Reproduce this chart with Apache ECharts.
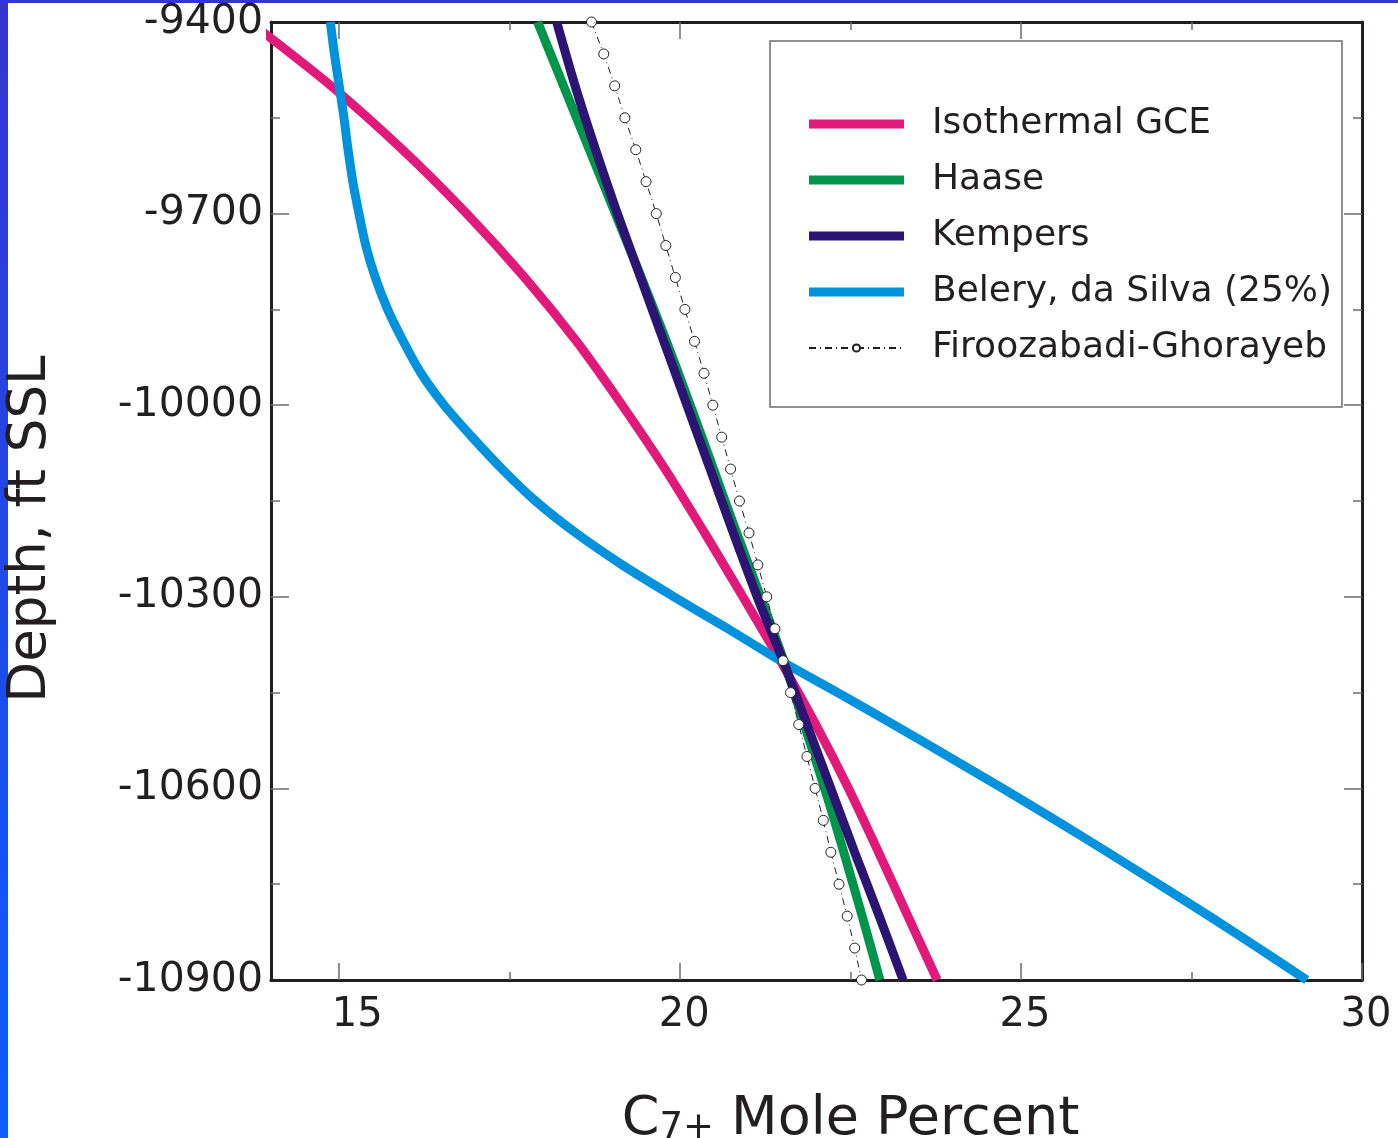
<!DOCTYPE html>
<html>
<head>
<meta charset="utf-8">
<script src="https://cdn.jsdelivr.net/npm/echarts@6/dist/echarts.min.js"></script>
<style>
html,body{margin:0;padding:0;background:#ffffff;}
#chart{width:1398px;height:1138px;}
</style>
</head>
<body>
<div id="chart"></div>
<script>
// ---------- data ----------
const depth100 = [-9400, -9500, -9600, -9700, -9800, -9900, -10000, -10100,
  -10200, -10300, -10400, -10500, -10600, -10700, -10800, -10900];
const depth50 = [-9400, -9450, -9500, -9550, -9600, -9650, -9700, -9750, -9800, -9850,
  -9900, -9950, -10000, -10050, -10100, -10150, -10200, -10250, -10300, -10350,
  -10400, -10450, -10500, -10550, -10600, -10650, -10700, -10750, -10800, -10850, -10900];

const isothermalGCE = [13.69, 14.88, 15.93, 16.87, 17.72, 18.48, 19.15, 19.78,
  20.36, 20.92, 21.47, 21.99, 22.47, 22.91, 23.34, 23.77];
const haase = [17.91, 18.29, 18.67, 19.05, 19.43, 19.80, 20.15, 20.49,
  20.83, 21.18, 21.52, 21.82, 22.12, 22.40, 22.67, 22.93];
const kempers = [18.19, 18.46, 18.76, 19.08, 19.42, 19.76, 20.10, 20.44,
  20.78, 21.13, 21.51, 21.86, 22.21, 22.56, 22.92, 23.27];
const belery = [14.87, 14.93, 15.00, 15.07, 15.13, 15.20, 15.29, 15.39, 15.53, 15.71,
  15.94, 16.20, 16.54, 16.95, 17.39, 17.88, 18.47, 19.15, 19.91, 20.70,
  21.47, 22.31, 23.13, 23.93, 24.73, 25.51, 26.27, 27.02, 27.76, 28.48, 29.19];
const firoozabadiGhorayeb = [18.70, 18.88, 19.04, 19.19, 19.35, 19.50, 19.65, 19.79, 19.93, 20.07,
  20.21, 20.35, 20.48, 20.61, 20.74, 20.87, 21.01, 21.14, 21.27, 21.39,
  21.51, 21.62, 21.74, 21.86, 21.98, 22.10, 22.21, 22.33, 22.45, 22.56, 22.66];

const seriesNames = ['Isothermal GCE', 'Haase', 'Kempers', 'Belery, da Silva (25%)', 'Firoozabadi-Ghorayeb'];
const xTickLabels = [15, 20, 25, 30];
const xMinorTicks = [17.5, 22.5, 27.5];
const yTickLabels = [-9400, -9700, -10000, -10300, -10600, -10900];
const yMajorInner = [-9700, -10000, -10300, -10600];
const yMinorTicks = [-9550, -9850, -10150, -10450, -10750];
const xTitle = ['C', '7+', ' Mole Percent'];
const yTitle = 'Depth, ft SSL';

// ---------- styling ----------
const FONT = 'DejaVu Sans';
const INK = '#231f20';
const TICK = '#6d6e71';
const PINK = '#e0197b';
const GREEN = '#00954a';
const PURPLE = '#2b1473';
const BLUE = '#0092dd';

function pairs(xs, ds) { return xs.map((x, i) => [x, ds[i]]); }

const X_MIN = 14, X_MAX = 30, Y_MIN = -10900, Y_MAX = -9400;

function xAxisDef(position, lineShow, ticks, tickLen, labels) {
  return {
    type: 'value', position: position, min: X_MIN, max: X_MAX,
    axisLine: { show: lineShow, onZero: false, lineStyle: { color: INK, width: 3 } },
    axisTick: { show: true, inside: true, length: tickLen, customValues: ticks,
      lineStyle: { color: TICK, width: 1.5 } },
    axisLabel: labels ? {
      show: true, customValues: labels, margin: 16,
      formatter: v => (v === 15 ? '{w|' + v + '}' : '{n|' + v + '}'),
      rich: {
        w: { fontSize: 40, color: INK, fontFamily: FONT, padding: [0, 0, 0, 36] },
        n: { fontSize: 40, color: INK, fontFamily: FONT, padding: [0, 0, 0, 8] }
      }
    } : { show: false },
    splitLine: { show: false }
  };
}
function yAxisDef(position, lineShow, ticks, tickLen, labels) {
  return {
    type: 'value', position: position, min: Y_MIN, max: Y_MAX,
    axisLine: { show: lineShow, onZero: false, lineStyle: { color: INK, width: 3 } },
    axisTick: { show: true, inside: true, length: tickLen, customValues: ticks,
      lineStyle: { color: TICK, width: 1.5 } },
    axisLabel: labels ? { show: true, customValues: labels, fontSize: 41, color: INK,
      fontFamily: FONT, margin: 8, formatter: v => String(v) } : { show: false },
    splitLine: { show: false }
  };
}

const xMain = xAxisDef('bottom', true, xTickLabels, 17, xTickLabels);
xMain.name = '{c|' + xTitle[0] + '}{s|' + xTitle[1] + '}{c|' + xTitle[2] + '}';
xMain.nameLocation = 'middle';
xMain.nameGap = 113;
xMain.nameTextStyle = {
  padding: [0, 0, 0, 68],
  rich: {
    c: { fontSize: 54, fontFamily: FONT, color: INK },
    s: { fontSize: 37, fontFamily: FONT, color: INK, lineHeight: 34, verticalAlign: 'bottom' }
  }
};

const yMain = yAxisDef('left', true, yMajorInner, 18, yTickLabels);
yMain.name = yTitle;
yMain.nameLocation = 'middle';
yMain.nameGap = 213;
yMain.nameTextStyle = { fontSize: 53, fontFamily: FONT, color: INK, padding: [0, 56, 0, 0] };

const chart = echarts.init(document.getElementById('chart'), null, { renderer: 'canvas' });

const solidLine = (name, xs, ds, color, smooth) => ({
  name: name, type: 'line', data: pairs(xs, ds),
  symbol: 'none', showSymbol: false, smooth: smooth,
  color: color, lineStyle: { color: color, width: 9, cap: 'butt' },
  emphasis: { disabled: true }, clip: true
});

chart.setOption({
  animation: false,
  backgroundColor: '#ffffff',
  grid: { left: 271, right: 36, top: 22, bottom: 158, containLabel: false, outerBoundsMode: 'none' },
  xAxis: [
    xMain,
    xAxisDef('bottom', false, xMinorTicks, 8, null),
    xAxisDef('top', true, [15, 20, 25], 17, null),
    xAxisDef('top', false, xMinorTicks, 8, null)
  ],
  yAxis: [
    yMain,
    yAxisDef('left', false, yMinorTicks, 9, null),
    yAxisDef('right', true, yMajorInner, 18, null),
    yAxisDef('right', false, yMinorTicks, 9, null)
  ],
  legend: {
    orient: 'vertical', left: 803, top: 101,
    itemWidth: 95, itemHeight: 9, itemGap: 20,
    selectedMode: false,
    formatter: name => '{t|' + name + '}',
    textStyle: {
      color: INK, fontFamily: FONT, fontSize: 36,
      rich: { t: { fontSize: 36, fontFamily: FONT, color: INK, padding: [0, 0, 0, 23] } }
    },
    data: [
      { name: seriesNames[0], icon: 'rect' },
      { name: seriesNames[1], icon: 'rect' },
      { name: seriesNames[2], icon: 'rect' },
      { name: seriesNames[3], icon: 'rect' },
      { name: seriesNames[4] }
    ]
  },
  graphic: [
    { type: 'rect', shape: { x: 0, y: 0, width: 1398, height: 3 }, style: { fill: '#3535cf' }, silent: true },
    { type: 'rect', shape: { x: 0, y: 0, width: 8, height: 1138 }, silent: true,
      style: { fill: new echarts.graphic.LinearGradient(0, 0, 0, 1, [
        { offset: 0, color: '#3535cf' }, { offset: 1, color: '#0a5dff' }]) } },
    { type: 'rect', shape: { x: 770, y: 41, width: 572, height: 366 }, silent: true,
      style: { fill: 'none', stroke: '#6d6e71', lineWidth: 1.5 } }
  ],
  series: [
    solidLine(seriesNames[0], isothermalGCE, depth100, PINK, 0.3),
    solidLine(seriesNames[3], belery, depth50, BLUE, 0.3),
    solidLine(seriesNames[1], haase, depth100, GREEN, 0.3),
    solidLine(seriesNames[2], kempers, depth100, PURPLE, 0.3),
    {
      name: seriesNames[4], type: 'line', data: pairs(firoozabadiGhorayeb, depth50),
      symbol: 'circle', symbolSize: 10, showSymbol: true, smooth: false,
      color: INK,
      itemStyle: { color: '#ffffff', borderColor: INK, borderWidth: 1 },
      lineStyle: { color: INK, width: 1, type: [7, 4, 1, 4] },
      emphasis: { disabled: true }, clip: true
    }
  ]
});
</script>
</body>
</html>
